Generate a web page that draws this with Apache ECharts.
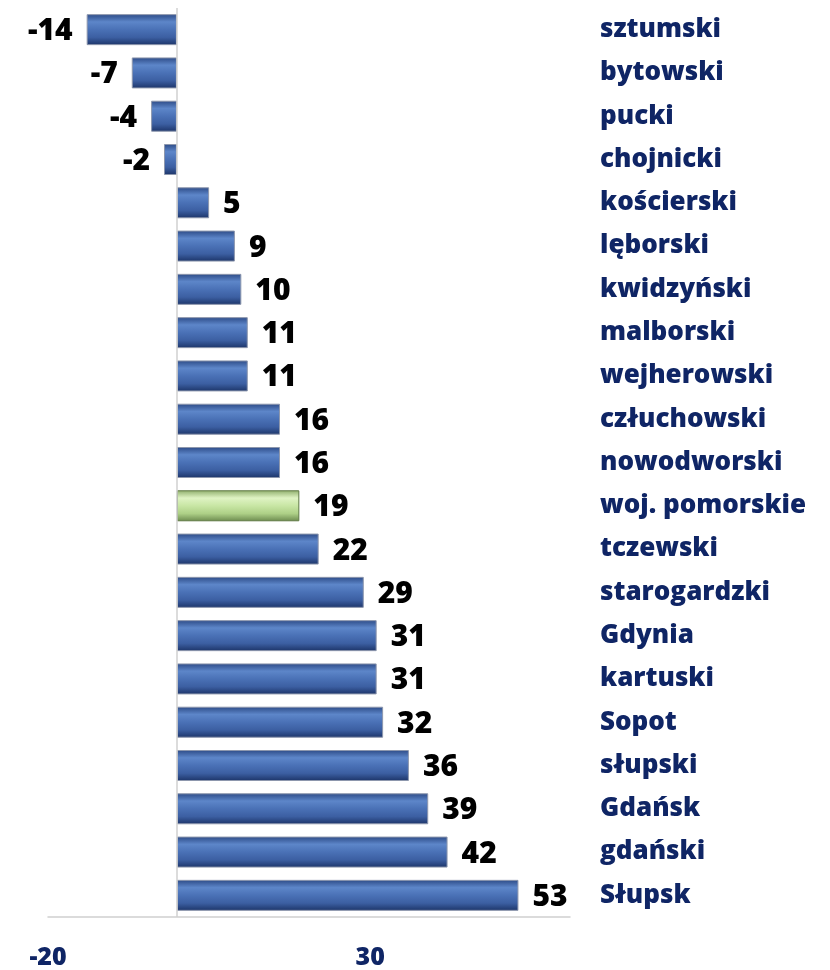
<!DOCTYPE html>
<html>
<head>
<meta charset="utf-8">
<script src="https://cdn.jsdelivr.net/npm/echarts@6/dist/echarts.min.js"></script>
<style>
html, body { margin: 0; padding: 0; background: #ffffff; }
#chart { width: 830px; height: 970px; }
</style>
</head>
<body>
<div id="chart"></div>
<script>
var categories = ['sztumski', 'bytowski', 'pucki', 'chojnicki', 'kościerski', 'lęborski', 'kwidzyński',
  'malborski', 'wejherowski', 'człuchowski', 'nowodworski', 'woj. pomorskie', 'tczewski', 'starogardzki',
  'Gdynia', 'kartuski', 'Sopot', 'słupski', 'Gdańsk', 'gdański', 'Słupsk']
var values = [-14, -7, -4, -2, 5, 9, 10, 11, 11, 16, 16, 19, 22, 29, 31, 31, 32, 36, 39, 42, 53]
var highlight = 'woj. pomorskie'

var navy = '#0f2565'

function grad(stops) {
  return new echarts.graphic.LinearGradient(0, 0, 0, 1, stops.map(function (c, i) {
    return { offset: i / (stops.length - 1), color: c }
  }))
}
var blue = grad(['#2c4a86', '#5d86c9', '#4a71b6', '#3c5fa2', '#1c3468'])
var green = grad(['#8fae6c', '#dff3c4', '#c8e6a4', '#aed087', '#6c8a4e'])

var seriesData = values.map(function (v, i) {
  var isHl = categories[i] === highlight
  return {
    value: v,
    itemStyle: {
      color: isHl ? green : blue,
      borderColor: isHl ? '#5f7a45' : '#8d97ad',
      borderWidth: 1
    },
    label: { position: v < 0 ? 'left' : 'right' }
  }
})

var myChart = echarts.init(document.getElementById('chart'))
myChart.setOption({
  animation: false,
  grid: { left: 48, right: 260, top: 8, bottom: 53, containLabel: false },
  xAxis: {
    type: 'value',
    min: -20,
    max: 61,
    interval: 50,
    splitLine: { show: false },
    axisTick: { show: false },
    axisLine: { show: true, onZero: false, lineStyle: { color: '#d0d0d0', width: 1.5 } },
    axisLabel: {
      showMaxLabel: false,
      margin: 28,
      color: navy,
      fontFamily: 'Open Sans',
      fontWeight: 800,
      fontSize: 25
    }
  },
  yAxis: {
    type: 'category',
    data: categories,
    inverse: true,
    position: 'right',
    axisLine: { show: false },
    axisTick: { show: false },
    axisLabel: {
      margin: 30,
      align: 'left',
      color: navy,
      fontFamily: 'Open Sans',
      fontWeight: 800,
      fontSize: 26
    }
  },
  series: [{
    type: 'bar',
    data: seriesData,
    barWidth: 31,
    label: {
      show: true,
      distance: 14,
      offset: [0, 2],
      color: '#000000',
      fontFamily: 'Open Sans',
      fontWeight: 800,
      fontSize: 30
    },
    markLine: {
      silent: true,
      symbol: 'none',
      label: { show: false },
      lineStyle: { color: '#d0d0d0', type: 'solid', width: 1.5 },
      data: [{ xAxis: 0 }]
    }
  }]
})
</script>
</body>
</html>
